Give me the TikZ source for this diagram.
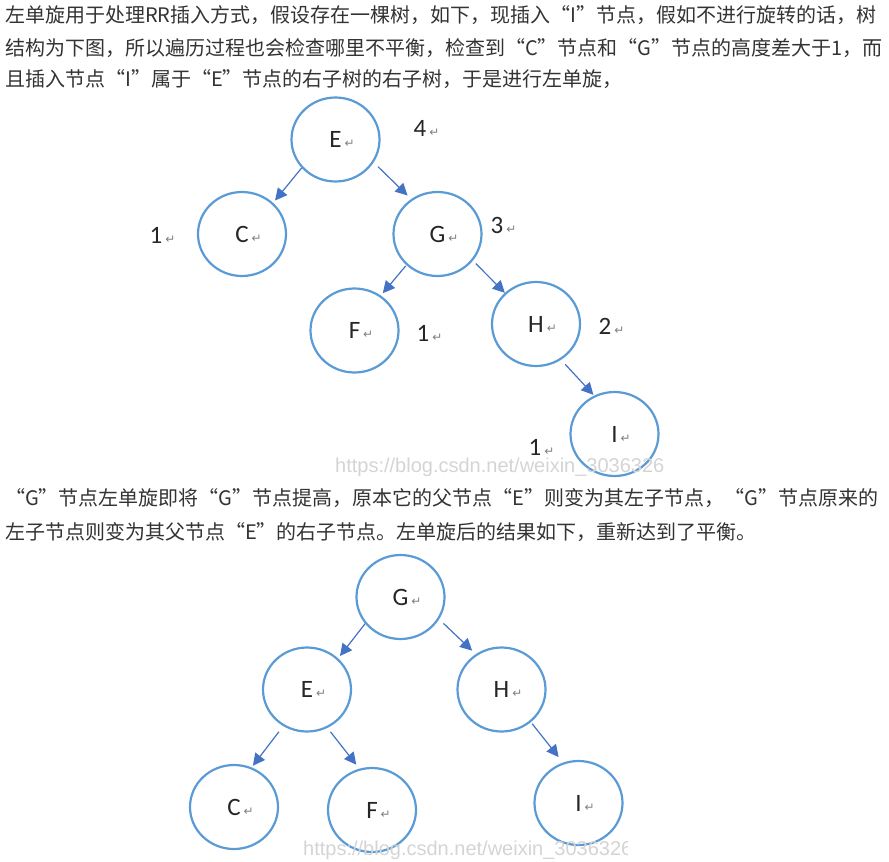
\documentclass[tikz,border=0pt]{standalone}
\usepackage{fontspec}
\setmainfont{Noto Sans CJK SC}
\newfontfamily\letterfont{Carlito}
\newfontfamily\markfont{DejaVu Sans}
\newfontfamily\wmfont{Liberation Sans}
\usepackage{tikz}
\usetikzlibrary{positioning,shapes.geometric,arrows.meta}
\definecolor{circblue}{HTML}{5B9BD5}
\definecolor{arrowblue}{HTML}{4472C4}
\newcommand{\retmark}{\hspace{3pt}{\markfont\fontsize{12}{12}\selectfont\color{black!50}↵}}

\begin{document}
\begin{tikzpicture}[x=1pt,y=-1pt,
	treenode/.style={ellipse,draw=circblue,line width=2.2pt,minimum width=88pt,minimum height=84pt,inner sep=0pt,font=\letterfont\fontsize{25}{25}\selectfont,text=black!85},
	hlabel/.style={inner sep=0pt,font=\letterfont\fontsize{25}{25}\selectfont,text=black!85},
	tarrow/.style={draw=arrowblue,line width=1.2pt,-{Triangle[length=12pt,width=12pt]}},
	para/.style={anchor=west,inner sep=0pt,font=\fontsize{20}{24}\selectfont,text=black!80},
	wmark/.style={anchor=west,inner sep=0pt,font=\wmfont\fontsize{20}{20}\selectfont,text=black!17}]
		\useasboundingbox (0,0) rectangle (889,862);
		
		\node[para] (p1) at (5,15) {左单旋用于处理RR插入方式，假设存在一棵树，如下，现插入“I”节点，假如不进行旋转的话，树};
		\node[para] (p2) at (5,48) {结构为下图，所以遍历过程也会检查哪里不平衡，检查到“C”节点和“G”节点的高度差大于1，而};
		\node[para] (p3) at (5,79) {且插入节点“I”属于“E”节点的右子树的右子树，于是进行左单旋，};
		
		% tree before the rotation
		\node[treenode] (E1) at (335.5,139.5) {E\rlap{\retmark}};
		\node[treenode,shift={(-93.5,94.5)}] (C1) at (E1) {C\rlap{\retmark}};
		\node[treenode,shift={(102,94.5)}] (G1) at (E1) {G\rlap{\retmark}};
		\node[treenode,shift={(-83,96.5)}] (F1) at (G1) {F\rlap{\retmark}};
		\node[treenode,shift={(98.5,90)}] (H1) at (G1) {H\rlap{\retmark}};
		\node[treenode,shift={(78.5,110)}] (I1) at (H1) {I\rlap{\retmark}};
		
		\node[hlabel,shift={(84.5,-11.5)}] (hE1) at (E1) {4\rlap{\retmark}};
		\node[hlabel,shift={(-86,1)}] (hC1) at (C1) {1\rlap{\retmark}};
		\node[hlabel,shift={(59.5,-9)}] (hG1) at (G1) {3\rlap{\retmark}};
		\node[hlabel,shift={(68.5,2.5)}] (hF1) at (F1) {1\rlap{\retmark}};
		\node[hlabel,shift={(69,2)}] (hH1) at (H1) {2\rlap{\retmark}};
		\node[hlabel,shift={(-79.5,13)}] (hI1) at (I1) {1\rlap{\retmark}};
		
		\draw[tarrow,shorten >=3pt] (E1.220)--(C1.45);
		\draw[tarrow,shorten <=6pt,shorten >=5pt] (E1.329)--(G1.127);
		\draw[tarrow,shorten <=1pt,shorten >=3pt] (G1.225)--(F1.53);
		\draw[tarrow,shorten <=4pt] (G1.323)--(H1.135);
		\draw[tarrow,shorten <=6pt,shorten >=1pt] (H1.305)--(I1.118);
		
		\node[wmark] (wm1) at (335,467) {https://blog.csdn.net/weixin\_3036326};
		
		\node[para] (q1) at (5,498) {“G”节点左单旋即将“G”节点提高，原本它的父节点“E”则变为其左子节点，“G”节点原来的};
		\node[para] (q2) at (5,532) {左子节点则变为其父节点“E”的右子节点。左单旋后的结果如下，重新达到了平衡。};
		
		% tree after the rotation
		\node[treenode] (G2) at (400.5,597) {G\rlap{\retmark}};
		\node[treenode,shift={(-93.5,92.5)}] (E2) at (G2) {E\rlap{\retmark}};
		\node[treenode,shift={(101,92.5)}] (H2) at (G2) {H\rlap{\retmark}};
		\node[treenode,shift={(-73,117.5)}] (C2) at (E2) {C\rlap{\retmark}};
		\node[treenode,shift={(65,120.5)}] (F2) at (E2) {F\rlap{\retmark}};
		\node[treenode,shift={(77,113.5)}] (I2) at (H2) {I\rlap{\retmark}};
		
		\draw[tarrow,shorten >=3pt] (G2.217)--(E2.45);
		\draw[tarrow,shorten <=6pt,shorten >=5pt] (G2.330)--(H2.126);
		\draw[tarrow,shorten <=7pt,shorten >=2pt] (E2.237)--(C2.66);
		\draw[tarrow,shorten <=5pt,shorten >=5pt] (E2.298)--(F2.107);
		\draw[tarrow,shorten <=2pt,shorten >=7pt] (H2.312)--(I2.111);
		
		\begin{scope}
			\clip (0,0) rectangle (627,862);
			\node[wmark] (wm2) at (303,850) {https://blog.csdn.net/weixin\_3036326};
		\end{scope}
	\end{tikzpicture}
\end{document}
